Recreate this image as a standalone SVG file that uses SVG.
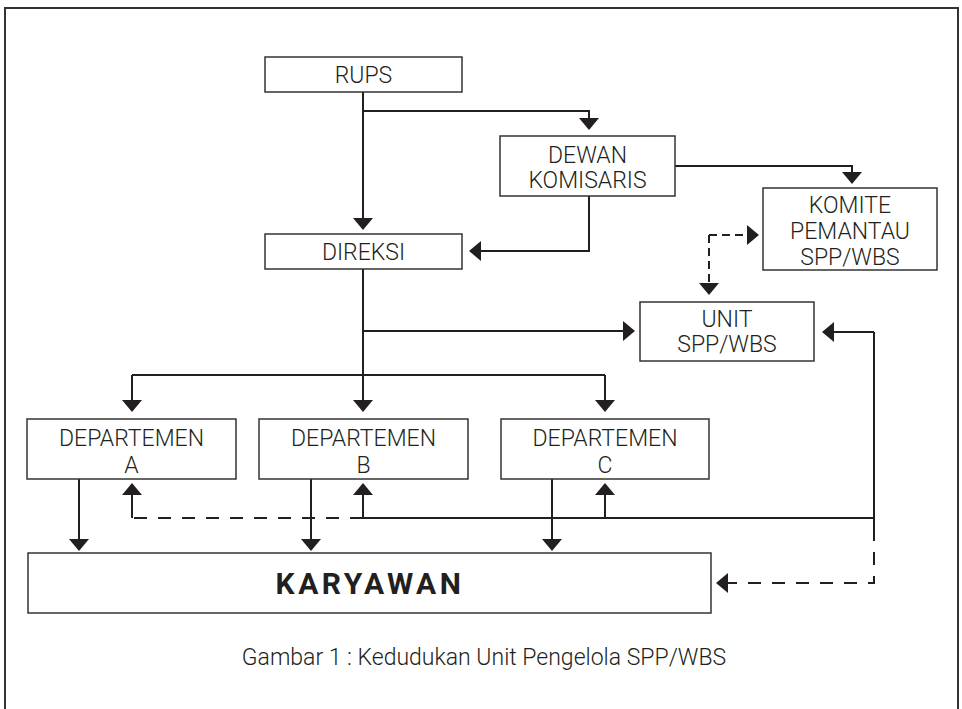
<svg xmlns="http://www.w3.org/2000/svg" width="962" height="709" viewBox="0 0 962 709">
<style>
.box{fill:#fff;stroke:#333;stroke-width:1.5}
.t{font-family:Roboto,"Liberation Sans",sans-serif;font-weight:300;font-size:23px;fill:#231f20;text-anchor:middle}
.kb{font-family:Roboto,"Liberation Sans",sans-serif;font-weight:700;font-size:30px;letter-spacing:3.5px;fill:#231f20;text-anchor:middle}
.cap{font-family:Roboto,"Liberation Sans",sans-serif;font-weight:300;font-size:23px;fill:#231f20;text-anchor:middle}
.ln{fill:none;stroke:#231f20;stroke-width:2}
.arr{marker-end:url(#ah)}
.d1{stroke-dasharray:8 5}
.d2{stroke-dasharray:13 11}
</style>
<defs>
<marker id="ah" markerUnits="userSpaceOnUse" viewBox="0 0 12 20" refX="0" refY="10" markerWidth="12" markerHeight="20" orient="auto">
<path d="M0,0 L12,10 L0,20 z" fill="#231f20"/>
</marker>
</defs>
<rect x="5" y="8" width="953" height="720" fill="#fff" stroke="#333" stroke-width="2"/>
<g id="connectors">
<path class="ln arr" d="M363,92 V218"/>
<path class="ln arr" d="M363,111 H589 V118"/>
<path class="ln arr" d="M675,166 H852 V172"/>
<path class="ln arr" d="M589,196 V251 H481"/>
<path class="ln arr d1" d="M709,235 H747"/>
<path class="ln arr d1" d="M709,235 V283"/>
<path class="ln arr" d="M363,331 H623"/>
<path class="ln arr" d="M363,269 V400"/>
<path class="ln" d="M132,375 H605"/>
<path class="ln arr" d="M132,375 V400"/>
<path class="ln arr" d="M605,375 V400"/>
<path class="ln arr" d="M79,479 V539"/>
<path class="ln arr" d="M311,479 V539"/>
<path class="ln arr" d="M552,479 V539"/>
<path class="ln arr" d="M874,332 H834"/>
<path class="ln" d="M874,332 V528"/>
<path class="ln" d="M874,518 H363"/>
<path class="ln d2" d="M363,518 H132"/>
<path class="ln arr" d="M132,518 V495"/>
<path class="ln arr" d="M363,518 V495"/>
<path class="ln arr" d="M605,518 V495"/>
<path class="ln arr d2" d="M874,528 V583 H728"/>
</g>
<g id="rups"><rect class="box" x="265" y="57" width="197" height="35"/><text class="t" x="363.5" y="83">RUPS</text></g>
<g id="dewan"><rect class="box" x="500" y="136" width="175" height="60"/><text class="t" x="587.5" y="163">DEWAN</text><text class="t" x="587.5" y="188">KOMISARIS</text></g>
<g id="komite"><rect class="box" x="763" y="188" width="174" height="82"/><text class="t" x="850" y="213">KOMITE</text><text class="t" x="850" y="239">PEMANTAU</text><text class="t" x="850" y="265">SPP/WBS</text></g>
<g id="direksi"><rect class="box" x="265" y="234" width="197" height="35"/><text class="t" x="363.5" y="260">DIREKSI</text></g>
<g id="unit"><rect class="box" x="640" y="302" width="174" height="59"/><text class="t" x="727" y="327">UNIT</text><text class="t" x="727" y="352">SPP/WBS</text></g>
<g id="dept-a"><rect class="box" x="27" y="419" width="209" height="60"/><text class="t" x="131.5" y="446">DEPARTEMEN</text><text class="t" x="131.5" y="473">A</text></g>
<g id="dept-b"><rect class="box" x="259" y="419" width="209" height="60"/><text class="t" x="363.5" y="446">DEPARTEMEN</text><text class="t" x="363.5" y="473">B</text></g>
<g id="dept-c"><rect class="box" x="501" y="419" width="208" height="60"/><text class="t" x="605" y="446">DEPARTEMEN</text><text class="t" x="605" y="473">C</text></g>
<g id="karyawan"><rect class="box" x="28" y="553" width="683" height="60"/><text class="kb" x="370" y="594">KARYAWAN</text></g>
<text class="cap" x="484" y="665">Gambar 1 : Kedudukan Unit Pengelola SPP/WBS</text>
</svg>
